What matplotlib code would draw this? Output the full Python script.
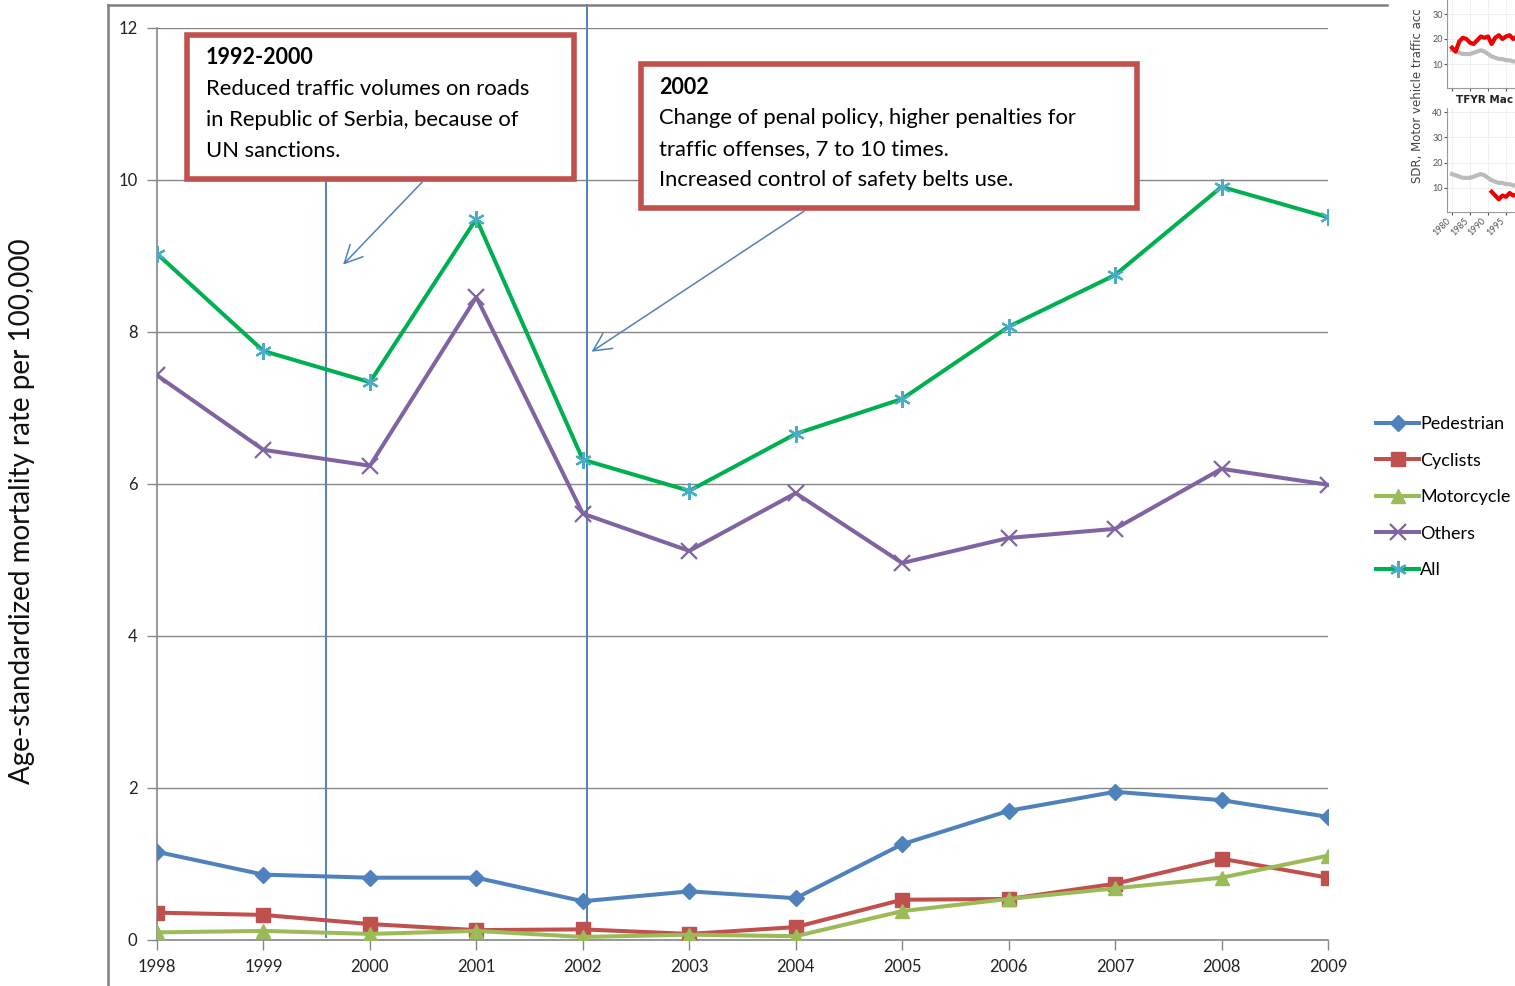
import matplotlib.pyplot as plt
from matplotlib.patches import Rectangle
from matplotlib.lines import Line2D

plt.rcParams['font.family'] = ['Lato', 'DejaVu Sans']

# data
years = [1998, 1999, 2000, 2001, 2002, 2003, 2004, 2005, 2006, 2007, 2008, 2009]
pedestrian = [1.16, 0.86, 0.82, 0.82, 0.51, 0.64, 0.55, 1.26, 1.70, 1.95, 1.84, 1.62]
cyclists = [0.36, 0.33, 0.21, 0.13, 0.14, 0.08, 0.17, 0.53, 0.54, 0.74, 1.07, 0.82]
motorcycle = [0.10, 0.12, 0.08, 0.12, 0.04, 0.07, 0.05, 0.38, 0.54, 0.68, 0.82, 1.11]
others = [7.43, 6.45, 6.24, 8.46, 5.61, 5.12, 5.88, 4.96, 5.29, 5.41, 6.20, 5.99]
all_modes = [9.03, 7.75, 7.34, 9.49, 6.32, 5.91, 6.66, 7.12, 8.07, 8.75, 9.91, 9.51]
y_ticks = [0, 2, 4, 6, 8, 10, 12]

# cropped piece of another figure in the top right corner
inset_years = list(range(1980, 2001))
inset_grey = [15.5, 15, 14.5, 14, 14, 14, 14.5, 15, 15.5, 15, 14, 13, 12.5, 12, 12, 11.5, 11.5, 11, 11, 11, 11]
inset_red_top = [16.5, 15, 19, 20.5, 20, 18.5, 18, 19.5, 21, 20.5, 21, 18, 20.5, 21.5, 20, 21, 21.5, 20, 21, 20.5, 21]
inset_red_years = list(range(1991, 2001))
inset_red_bottom = [8.5, 7, 5.5, 7, 6.5, 8, 7, 7.5, 8, 7.5]
inset_xticks = [1980, 1985, 1990, 1995]

W, H = 1515, 986
fig = plt.figure(figsize=(W / 100, H / 100), dpi=100)


def fx(x):
    return x / W


def fy(y):
    return 1 - y / H


ax = fig.add_axes([fx(157), fy(940), fx(1328) - fx(157), fy(28) - fy(940)])

grid_c = '#868686'
ax.plot(years, pedestrian, color='#4F81BD', lw=2.9, marker='D', ms=8, label='Pedestrian', zorder=5)
ax.plot(years, cyclists, color='#C0504D', lw=2.9, marker='s', ms=10, label='Cyclists', zorder=5)
ax.plot(years, motorcycle, color='#9BBB59', lw=2.9, marker='^', ms=10, label='Motorcycle', zorder=5)
ax.plot(years, others, color='#8064A2', lw=2.9, marker='x', ms=11, mew=1.6, label='Others', zorder=5)
ax.plot(years, all_modes, color='#00B050', lw=2.9, marker=(6, 2, 0), ms=12, mew=1.6,
        mec='#4BACC6', label='All', zorder=5)

ax.set_xlim(1998, 2009)
ax.set_ylim(0, 12)
ax.set_xticks(years)
ax.set_yticks(y_ticks)
ax.tick_params(axis='both', labelsize=12, colors='#222222', length=7, width=1, pad=7)
ax.tick_params(axis='x', color=grid_c)
ax.tick_params(axis='y', color=grid_c)
ax.grid(axis='y', color=grid_c, lw=1)
for s in ['top', 'right']:
    ax.spines[s].set_visible(False)
for s in ['left', 'bottom']:
    ax.spines[s].set_color(grid_c)
    ax.spines[s].set_linewidth(1.2)

fig.text(fx(22), fy(511), 'Age-standardized mortality rate per 100,000', rotation=90,
         ha='center', va='center', fontsize=20, color='#111111')

# outer frame
fig.add_artist(Line2D([fx(108), fx(108)], [fy(986), fy(5)], color='#808080', lw=1.8))
fig.add_artist(Line2D([fx(108), fx(1387)], [fy(5), fy(5)], color='#808080', lw=1.8))

# event lines
blue = '#4F81BD'
ax.plot([1999.59, 1999.59], [0.04, 10.0], color=blue, lw=1.4, clip_on=False, zorder=3)
ax.plot([2002.04, 2002.04], [0.04, 12.3], color=blue, lw=1.4, clip_on=False, zorder=3)
ax.annotate('', xy=(1999.73, 8.86), xytext=(2000.51, 10.0),
            arrowprops=dict(arrowstyle='->', color=blue, lw=1.1, mutation_scale=32))
ax.annotate('', xy=(2002.06, 7.72), xytext=(2004.10, 9.61),
            arrowprops=dict(arrowstyle='->', color=blue, lw=1.1, mutation_scale=32))

# annotation boxes
boxes = [
    (187, 35, 574, 179, '1992-2000',
     ['Reduced traffic volumes on roads', 'in Republic of Serbia, because of', 'UN sanctions.'], 206, 58),
    (641, 64, 1137, 208, '2002',
     ['Change of penal policy, higher penalties for', 'traffic offenses, 7 to 10 times.',
      'Increased control of safety belts use.'], 659, 87),
]
for x0, y0, x1, y1, head, lines, tx, ty in boxes:
    fig.add_artist(Rectangle((fx(x0), fy(y1)), fx(x1) - fx(x0), fy(y0) - fy(y1),
                             facecolor='white', edgecolor='#C0504D', lw=4, zorder=10))
    fig.text(fx(tx), fy(ty), head, fontsize=15.5, fontweight='bold', va='center', ha='left', zorder=11)
    for i, ln in enumerate(lines):
        fig.text(fx(tx), fy(ty + 31 * (i + 1)), ln, fontsize=15.8, va='center', ha='left', zorder=11)

leg = fig.legend(loc='upper left', bbox_to_anchor=(fx(1376), fy(416)), frameon=False,
                 fontsize=13, handlelength=2.4, handletextpad=0.05, labelspacing=1.14,
                 borderaxespad=0, borderpad=0)

# inset (cropped other figure)
ia1 = fig.add_axes([fx(1447), fy(88), fx(1700) - fx(1447), fy(0) - fy(88)])
ia2 = fig.add_axes([fx(1447), fy(212), fx(1700) - fx(1447), fy(108) - fy(212)])
for a, lo, hi, ticks in [(ia1, 0.4, 35.6, [10, 20, 30]), (ia2, 0.5, 41.6, [10, 20, 30, 40])]:
    a.plot(inset_years, inset_grey, color='#BBBBBB', lw=3)
    a.set_xlim(1978.6, 2048.9)
    a.set_ylim(lo, hi)
    a.set_yticks(ticks)
    a.set_xticks(inset_xticks)
    a.grid(color='#EEEEEE', lw=0.6)
    a.tick_params(labelsize=6.5, colors='#555555', length=2, pad=1)
    for s in ['top', 'right']:
        a.spines[s].set_visible(False)
    for s in ['left', 'bottom']:
        a.spines[s].set_color('#999999')
        a.spines[s].set_linewidth(0.8)
ia1.plot(inset_years, inset_red_top, color='#EE0000', lw=3)
ia2.plot(inset_red_years, inset_red_bottom, color='#EE0000', lw=3)
ia1.set_xticklabels([])
ia2.set_xticklabels([str(v) for v in inset_xticks], rotation=45, ha='right')
fig.text(fx(1456), fy(100), 'TFYR Mac', fontsize=7.5, fontweight='bold', va='center',
         ha='left', family='DejaVu Sans', color='#222222')
fig.text(fx(1418), fy(183), 'SDR, Motor vehicle traffic acc', rotation=90,
         rotation_mode='anchor', ha='left', va='center', fontsize=8.5, family='DejaVu Sans',
         color='#444444')

fig.savefig('out.png', dpi=100)
